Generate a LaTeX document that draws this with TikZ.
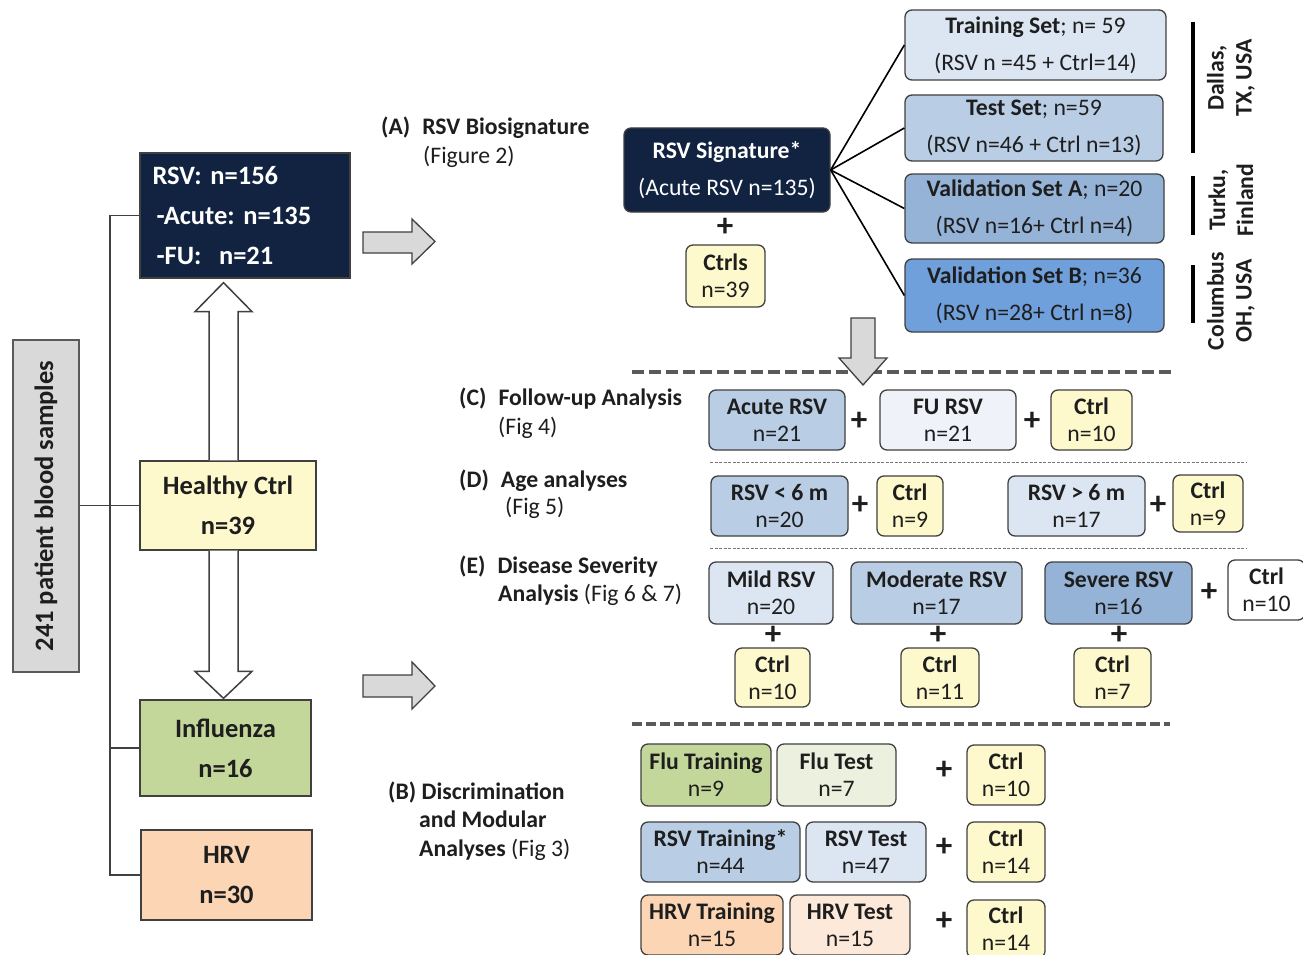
\documentclass[tikz,border=0pt]{standalone}
\usepackage{fontspec}
\setmainfont{Carlito}
\usetikzlibrary{calc}
\frenchspacing
\definecolor{navy}{RGB}{17,35,64}
\definecolor{ylw}{RGB}{253,249,204}
\definecolor{grn}{RGB}{196,215,155}
\definecolor{lgrn}{RGB}{235,241,222}
\definecolor{pch}{RGB}{252,213,180}
\definecolor{lpch}{RGB}{253,233,217}
\definecolor{bl0}{RGB}{239,243,249}
\definecolor{bl1}{RGB}{220,230,242}
\definecolor{bl2}{RGB}{185,205,229}
\definecolor{bl3}{RGB}{149,179,215}
\definecolor{bl4}{RGB}{112,160,220}
\definecolor{lgray}{RGB}{217,217,217}
\definecolor{bord}{RGB}{64,64,64}
\definecolor{dgray}{RGB}{90,90,90}
\definecolor{tgray}{RGB}{120,120,120}
\definecolor{txt}{RGB}{30,30,30}
\newcommand\placebox[7]{%
  \node[#1, minimum width={(#5-#3)*1pt}, minimum height={(#6-#4)*1pt}] (#2) at ({(#3+#5)/2},{(#4+#6)/2}) {#7};}
\tikzset{
  lbox/.style={draw=bord, line width=1.3pt, inner sep=0pt, align=center, text=txt, font=\fontsize{26.5}{40}\selectfont\bfseries},
  rbox/.style={draw=bord, line width=1.3pt, rounded corners=7pt, inner sep=0pt, align=center, text=txt, font=\fontsize{23.7}{27}\selectfont},
  wbox/.style={rbox, font=\fontsize{23.7}{37}\selectfont},
  conn/.style={draw=bord, line width=1.6pt},
  spoke/.style={draw=black, line width=1.6pt},
  hollow/.style={draw=bord, fill=white, line width=1.5pt, line join=miter},
  garrow/.style={draw=bord, fill=lgray, line width=1.3pt},
  plussign/.style={font=\fontsize{33}{33}\selectfont\bfseries, inner sep=0pt, text=txt},
  sectlab/.style={font=\fontsize{23.7}{28}\selectfont, inner sep=0pt, anchor=base west, text=txt},
  boldlab/.style={sectlab, font=\fontsize{23.7}{28}\selectfont\bfseries},
  bigdash/.style={draw=dgray, line width=4.5pt, dash pattern=on 12pt off 5pt},
  middash/.style={draw=dgray, line width=4pt, dash pattern=on 10pt off 4pt},
  thindash/.style={draw=tgray, line width=0.9pt, dash pattern=on 3pt off 1.5pt},
  bar/.style={draw=black, line width=3.5pt},
  loc/.style={rotate=90, align=center, font=\fontsize{23.7}{28}\selectfont\bfseries, inner sep=0pt, text=txt},
}
\begin{document}
\begin{tikzpicture}[x=1pt,y=-1pt]
\useasboundingbox (0,0) rectangle (1303,955);
\fill[white] (0,0) rectangle (1303,955);
\clip (0,0) rectangle (1303,955);

% ---------------- left column ----------------
\placebox{lbox, fill=lgray, draw=dgray}{gray}{13}{340}{79}{672}{}
\node[rotate=90, font=\fontsize{26.5}{30}\selectfont\bfseries, text=txt] (graytxt) at (gray.center) {241 patient blood samples};

\placebox{lbox, fill=navy, text=white, align=left, text width=185pt}{rsv}{140}{153}{350}{278}{RSV: n=156\\\hspace*{4pt}-Acute: n=135\\\hspace*{4pt}-FU:\ \ n=21}
\placebox{lbox, fill=ylw}{hc}{140}{461}{316}{550}{Healthy Ctrl\\n=39}
\placebox{lbox, fill=grn}{flu}{140}{700}{311}{796}{Influenza\\n=16}
\placebox{lbox, fill=pch}{hrv}{141}{830}{312}{920}{HRV\\n=30}

\coordinate (vx) at (110,0);
\draw[conn] (rsv.west) -| (vx |- hrv.west) -- (hrv.west);
\draw[conn] (gray.east |- hc.west) -- (hc.west);
\draw[conn] (vx |- flu.west) -- (flu.west);

% hollow arrows
\coordinate (ua) at ($(hc.north)+(-4.5,0)$);
\coordinate (ub) at ($(ua |- rsv.south)+(0,4)$);
\draw[hollow] ($(ua)+(-14.5,0)$) -- ($(ub)+(-14.5,29)$) -- ($(ub)+(-28.5,29)$) -- (ub) -- ($(ub)+(28.5,29)$) -- ($(ub)+(14.5,29)$) -- ($(ua)+(14.5,0)$);
\coordinate (da) at ($(hc.south)+(-4.5,0)$);
\coordinate (db) at ($(da |- flu.north)+(0,-1)$);
\draw[hollow] ($(da)+(-14.5,0)$) -- ($(db)+(-14.5,-27)$) -- ($(db)+(-28.5,-27)$) -- (db) -- ($(db)+(28.5,-27)$) -- ($(db)+(14.5,-27)$) -- ($(da)+(14.5,0)$);

% gray block arrows
\draw[garrow] (363,232) -- (412,232) -- (412,219) -- (435,241.5) -- (412,264) -- (412,253) -- (363,253) -- cycle;
\draw[garrow] (363,675) -- (412,675) -- (412,662) -- (435,686) -- (412,709) -- (412,697) -- (363,697) -- cycle;

% ---------------- (A) ----------------
\node[boldlab] (la1) at (381,135) {(A)\hspace{12pt}RSV Biosignature};
\node[sectlab] (la2) at (423,163) {(Figure 2)};

\placebox{wbox, fill=navy, text=white}{sig}{624}{128}{830}{212}{\textbf{RSV Signature*}\\(Acute RSV n=135)}
\node[plussign] (pa) at (725,227) {+};
\placebox{rbox, fill=ylw}{ctrls}{686}{245}{765}{307}{\textbf{Ctrls}\\n=39}

\placebox{wbox, fill=bl1}{train}{905}{10}{1166}{80}{\textbf{Training Set}; n= 59\\(RSV n =45 + Ctrl=14)}
\placebox{wbox, fill=bl2}{test}{905}{95}{1163}{161}{\textbf{Test Set}; n=59\\(RSV n=46 + Ctrl n=13)}
\placebox{wbox, fill=bl3}{vala}{905}{174}{1164}{243}{\textbf{Validation Set A}; n=20\\(RSV n=16+ Ctrl n=4)}
\placebox{wbox, fill=bl4}{valb}{905}{259}{1164}{332}{\textbf{Validation Set B}; n=36\\(RSV n=28+ Ctrl n=8)}
\foreach \t in {train,test,vala,valb} \draw[spoke] (sig.east) -- (\t.west);

\draw[bar] (1193,22) -- (1193,153);
\draw[bar] (1193,176) -- (1193,235);
\draw[bar] (1193,265) -- (1193,323);
\node[loc] (l1) at (1231,78) {Dallas,\\TX, USA};
\node[loc] (l2) at (1231,200) {Turku,\\Finland};
\node[loc] (l3) at (1231,301) {Columbus\\OH, USA};

% dashed separators
\draw[bigdash] (632,372) -- (1172,372);
\draw[garrow] (851,318) -- (875,318) -- (875,358) -- (887,358) -- (863,385) -- (839,358) -- (851,358) -- cycle;
\draw[thindash] (710,462) -- (1246,462);
\draw[thindash] (710,548) -- (1246,548);
\draw[middash] (632,724) -- (1170,724);

% ---------------- (C) ----------------
\node[boldlab] (lc1) at (459,405) {(C)\hspace{12pt}Follow-up Analysis};
\node[sectlab] (lc2) at (498,434) {(Fig 4)};
\placebox{rbox, fill=bl2}{acute}{709}{390}{845}{450}{\textbf{Acute RSV}\\n=21}
\node[plussign] (pc1) at (859,421) {+};
\placebox{rbox, fill=bl0}{furs}{880}{390}{1016}{450}{\textbf{FU RSV}\\n=21}
\node[plussign] (pc2) at (1032,421) {+};
\placebox{rbox, fill=ylw}{cc}{1051}{390}{1132}{450}{\textbf{Ctrl}\\n=10}

% ---------------- (D) ----------------
\node[boldlab] (ld1) at (459,487) {(D)\hspace{12pt}Age analyses};
\node[sectlab] (ld2) at (505,514) {(Fig 5)};
\placebox{rbox, fill=bl2}{lt}{711}{476}{848}{536}{\textbf{RSV < 6 m}\\n=20}
\node[plussign] (pd1) at (860,505) {+};
\placebox{rbox, fill=ylw}{cd1}{877}{476}{943}{536}{\textbf{Ctrl}\\n=9}
\placebox{rbox, fill=bl1}{gt}{1008}{476}{1145}{536}{\textbf{RSV > 6 m}\\n=17}
\node[plussign] (pd2) at (1158,505) {+};
\placebox{rbox, fill=ylw}{cd2}{1173}{475}{1243}{532}{\textbf{Ctrl}\\n=9}

% ---------------- (E) ----------------
\node[boldlab] (le1) at (459,573) {(E)\hspace{12pt}Disease Severity};
\node[sectlab] (le2) at (498,601) {\textbf{Analysis} (Fig 6 \& 7)};
\placebox{rbox, fill=bl1}{mild}{709}{562}{833}{624}{\textbf{Mild RSV}\\n=20}
\placebox{rbox, fill=bl2}{mod}{851}{562}{1022}{624}{\textbf{Moderate RSV}\\n=17}
\placebox{rbox, fill=bl3}{sev}{1045}{562}{1192}{624}{\textbf{Severe RSV}\\n=16}
\node[plussign] (pe0) at (1209,592) {+};
\placebox{rbox, fill=white}{cew}{1228}{560}{1305}{620}{\textbf{Ctrl}\\n=10}
\node[plussign] (pe1) at (773,635) {+};
\node[plussign] (pe2) at (938,635) {+};
\node[plussign] (pe3) at (1119,635) {+};
\placebox{rbox, fill=ylw}{ce1}{735}{648}{810}{707}{\textbf{Ctrl}\\n=10}
\placebox{rbox, fill=ylw}{ce2}{901}{648}{979}{707}{\textbf{Ctrl}\\n=11}
\placebox{rbox, fill=ylw}{ce3}{1074}{648}{1151}{707}{\textbf{Ctrl}\\n=7}

% ---------------- (B) ----------------
\node[boldlab] (lb1) at (388,799) {(B) Discrimination};
\node[boldlab] (lb2) at (419,827) {and Modular};
\node[sectlab] (lb3) at (419,856) {\textbf{Analyses} (Fig 3)};
\placebox{rbox, fill=grn}{ftr}{641}{744}{771}{806}{\textbf{Flu Training}\\n=9}
\placebox{rbox, fill=lgrn}{fte}{777}{744}{896}{806}{\textbf{Flu Test}\\n=7}
\node[plussign] (pb1) at (944,770) {+};
\placebox{rbox, fill=ylw}{cb1}{967}{745}{1045}{805}{\textbf{Ctrl}\\n=10}
\placebox{rbox, fill=bl2}{rtr}{641}{822}{800}{882}{\textbf{RSV Training*}\\n=44}
\placebox{rbox, fill=bl1}{rte}{806}{822}{926}{882}{\textbf{RSV Test}\\n=47}
\node[plussign] (pb2) at (944,847) {+};
\placebox{rbox, fill=ylw}{cb2}{967}{822}{1045}{882}{\textbf{Ctrl}\\n=14}
\placebox{rbox, fill=pch}{htr}{641}{895}{783}{955}{\textbf{HRV Training}\\n=15}
\placebox{rbox, fill=lpch}{hte}{790}{895}{910}{955}{\textbf{HRV Test}\\n=15}
\node[plussign] (pb3) at (944,921) {+};
\placebox{rbox, fill=ylw}{cb3}{967}{900}{1045}{958}{\textbf{Ctrl}\\n=14}
\end{tikzpicture}
\end{document}
